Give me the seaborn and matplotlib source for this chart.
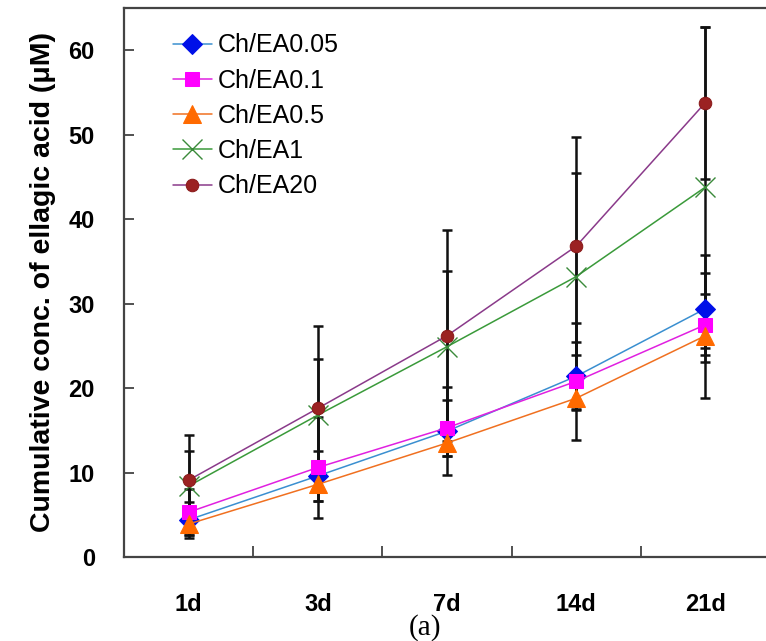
import numpy as np
import pandas as pd
import matplotlib
matplotlib.use("Agg")
import matplotlib.pyplot as plt
import seaborn as sns

# Release time points
days = ["1d", "3d", "7d", "14d", "21d"]

# Cumulative ellagic acid concentration (uM) per formulation
ea005 = [4.4, 9.6, 14.9, 21.4, 29.4]
ea01 = [5.3, 10.6, 15.3, 20.8, 27.5]
ea05 = [3.9, 8.6, 13.5, 18.8, 26.2]
ea1 = [8.4, 16.8, 24.9, 33.2, 43.8]
ea20 = [9.1, 17.6, 26.2, 36.8, 53.8]

# Standard deviations
ea005_sd = [2.1, 3.0, 5.2, 4.0, 6.3]
ea01_sd = [2.7, 6.0, 3.3, 6.9, 3.6]
ea05_sd = [1.3, 2.0, 1.5, 1.3, 7.4]
ea1_sd = [4.2, 6.7, 9.0, 12.3, 19.0]
ea20_sd = [5.4, 9.7, 12.5, 12.9, 9.0]

names = ["Ch/EA0.05", "Ch/EA0.1", "Ch/EA0.5", "Ch/EA1", "Ch/EA20"]
values = [ea005, ea01, ea05, ea1, ea20]
sds = [ea005_sd, ea01_sd, ea05_sd, ea1_sd, ea20_sd]

styles = [
    dict(color="#3a8fd0", marker="D", markersize=10, markerfacecolor="#0010e8",
         markeredgecolor="#0010e8"),
    dict(color="#e020e0", marker="s", markersize=10, markerfacecolor="#ff00ff",
         markeredgecolor="#ff00ff"),
    dict(color="#f07020", marker="^", markersize=13, markerfacecolor="#ff6a00",
         markeredgecolor="#ff6a00"),
    dict(color="#3a9a3a", marker="x", markersize=14, markeredgewidth=1.0,
         markeredgecolor="#3a8a3a"),
    dict(color="#8a3a8a", marker="o", markersize=9, markerfacecolor="#9b2222",
         markeredgecolor="#8a1a1a"),
]

sns.set_theme(style="white")
plt.rcParams["font.family"] = ["Liberation Sans", "DejaVu Sans"]
plt.rcParams["text.color"] = "black"
plt.rcParams["axes.labelcolor"] = "black"
plt.rcParams["xtick.color"] = "black"
plt.rcParams["ytick.color"] = "black"

fig = plt.figure(figsize=(7.66, 6.41), dpi=100)
ax = fig.add_axes([124 / 766, 84 / 641, 646 / 766, 549 / 641])

pos = np.arange(len(days))

# Error bars behind the series
for v, e in zip(values, sds):
    ax.errorbar(pos, v, yerr=e, fmt="none", ecolor="#111111", elinewidth=1.8,
                capsize=3.5, capthick=1.8, zorder=2)

for name, v, st in zip(names, values, styles):
    df = pd.DataFrame({"day": pos, "conc": v})
    sns.lineplot(data=df, x="day", y="conc", ax=ax, label=name, linewidth=1.1,
                 zorder=3, **st)

ax.set_xlim(-0.5, 4.5)
ax.set_ylim(0, 65)
ax.set_yticks([0, 10, 20, 30, 40, 50, 60])
ax.set_xticks(pos)
ax.set_xticklabels(days, fontsize=17, fontweight="bold")
ax.set_xticks(pos[:-1] + 0.5, minor=True)
ax.tick_params(axis="x", which="major", length=0, pad=26)
ax.tick_params(axis="x", which="minor", direction="in", length=8, width=1.2,
               color="#333333", bottom=True)
ax.tick_params(axis="y", direction="in", length=7, width=1.2, color="#333333",
               left=True, labelsize=17, pad=21)
for lab in ax.get_yticklabels():
    lab.set_fontweight("bold")

ax.set_xlabel("")
ax.set_ylabel("Cumulative conc. of ellagic acid (\u03bcM)", fontsize=20.5,
              fontweight="bold", labelpad=9)

for side in ["left", "bottom", "top", "right"]:
    ax.spines[side].set_visible(True)
    ax.spines[side].set_color("#444444")
    ax.spines[side].set_linewidth(1.6)

leg = ax.legend(loc="upper left", bbox_to_anchor=(0.06, 0.972), frameon=False,
                fontsize=18, handlelength=1.55, labelspacing=0.45,
                handletextpad=0.25, borderaxespad=0)

fig.text(425 / 766, 1 - 628 / 641, "(a)", ha="center", va="center",
         fontsize=21, family=["Liberation Serif", "DejaVu Serif"])

fig.savefig("out.png", dpi=100)
